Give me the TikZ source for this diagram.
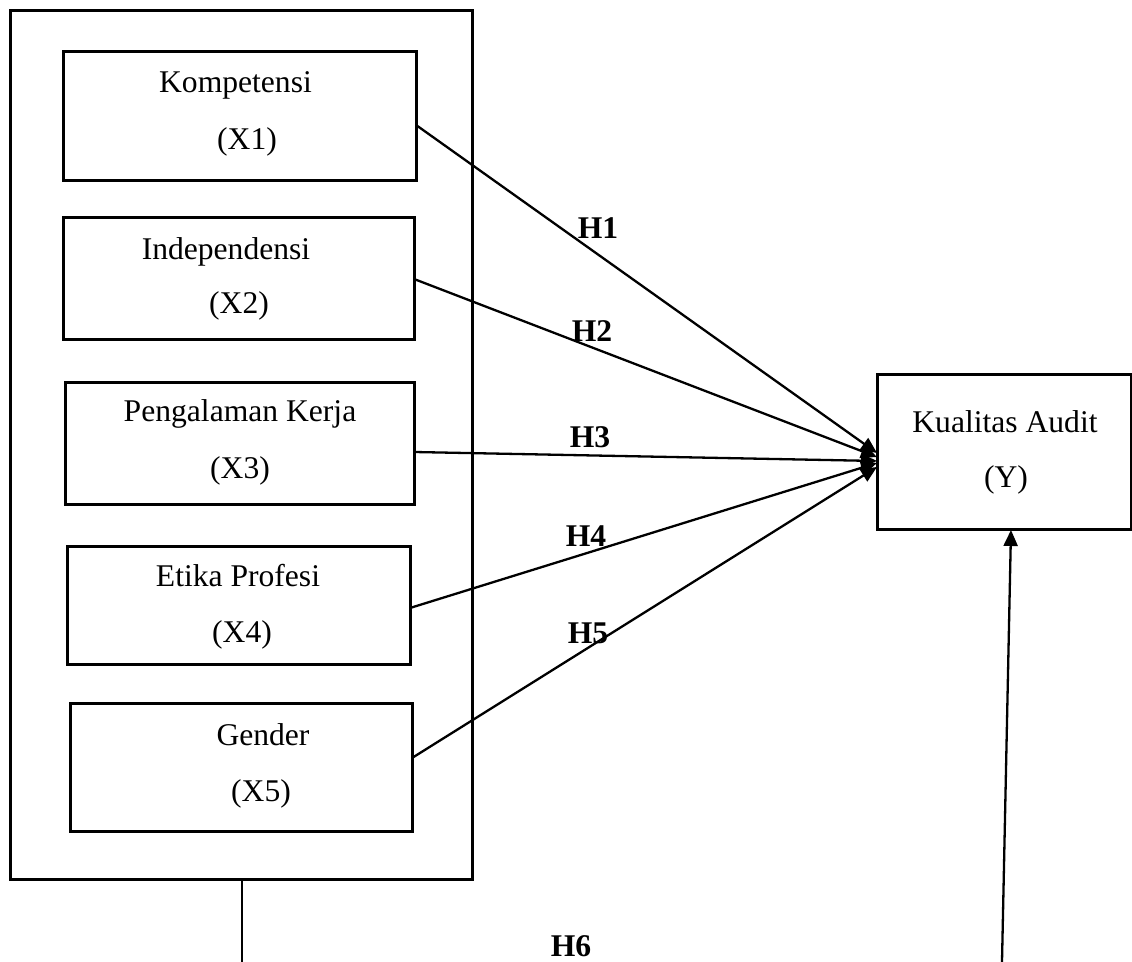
\documentclass[tikz,border=0pt]{standalone}
\usepackage{fontspec}
\setmainfont{Liberation Serif}
\usetikzlibrary{arrows.meta}
\begin{document}
\begin{tikzpicture}[x=0.5pt,y=-0.5pt,
  every node/.style={font=\fontsize{15.8}{19}\selectfont},
  varbox/.style={draw,line width=1.5pt,rectangle,inner sep=0,outer sep=0},
  txt/.style={inner sep=0,anchor=base},
  hyp/.style={inner sep=0,anchor=base,font=\fontsize{15.8}{19}\selectfont\bfseries},
  conn/.style={line width=1.15pt,-{Triangle[length=8pt,width=7pt]}},
  plain/.style={line width=1.15pt}]
\useasboundingbox (0,0) rectangle (1132,962);
% outer frame
\node[varbox,minimum width=231pt,minimum height=434.5pt] (outer) at (241,445.5) {};
% independent variables
\node[varbox,minimum width=176.5pt,minimum height=64.5pt] (x1) at (239.5,116.5) {};
\node[varbox,minimum width=175.5pt,minimum height=61pt] (x2) at (238.5,279) {};
\node[varbox,minimum width=174.5pt,minimum height=61pt] (x3) at (239.5,444) {};
\node[varbox,minimum width=171.5pt,minimum height=59pt] (x4) at (238.5,606) {};
\node[varbox,minimum width=171pt,minimum height=64pt] (x5) at (241,768) {};
% dependent variable
\node[varbox,minimum width=127pt,minimum height=77.5pt] (y) at (1004,452.5) {};
% texts
\node[txt] (t1a) at (235.5,93) {Kompetensi};
\node[txt] (t1b) at (247,150) {(X1)};
\node[txt] (t2a) at (226,260) {Independensi};
\node[txt] (t2b) at (239,314) {(X2)};
\node[txt] (t3a) at (240,422) {Pengalaman Kerja};
\node[txt] (t3b) at (240,479) {(X3)};
\node[txt] (t4a) at (238,587) {Etika Profesi};
\node[txt] (t4b) at (242,643) {(X4)};
\node[txt] (t5a) at (263,746) {Gender};
\node[txt] (t5b) at (261,802) {(X5)};
\node[txt] (tya) at (1005,433) {Kualitas Audit};
\node[txt] (tyb) at (1006,488) {(Y)};
% connectors
\draw[conn] ([yshift=-4.25pt]x1.east) -- ([yshift=-0.25pt]y.west);
\draw[conn] (x2.east) -- ([yshift=-2.25pt]y.west);
\draw[conn] ([yshift=-4pt]x3.east) -- ([yshift=-4.25pt]y.west);
\draw[conn] ([yshift=-1pt]x4.east) -- ([yshift=-5.25pt]y.west);
\draw[conn] ([yshift=5pt]x5.east) -- ([yshift=-7.25pt]y.west);
% bottom connectors (cut at the page edge)
\coordinate (bl) at (242,962);
\coordinate (br) at (1002,962);
\draw[plain] ([xshift=0.5pt]outer.south) -- (bl);
\draw[conn] (br) -- ([xshift=3.5pt]y.south);
% hypothesis labels
\node[hyp] (h1) at (598,239) {H1};
\node[hyp] (h2) at (592,342) {H2};
\node[hyp] (h3) at (590,448) {H3};
\node[hyp] (h4) at (586,547) {H4};
\node[hyp] (h5) at (588,644) {H5};
\node[hyp] (h6) at (571,957) {H6};
\end{tikzpicture}
\end{document}
